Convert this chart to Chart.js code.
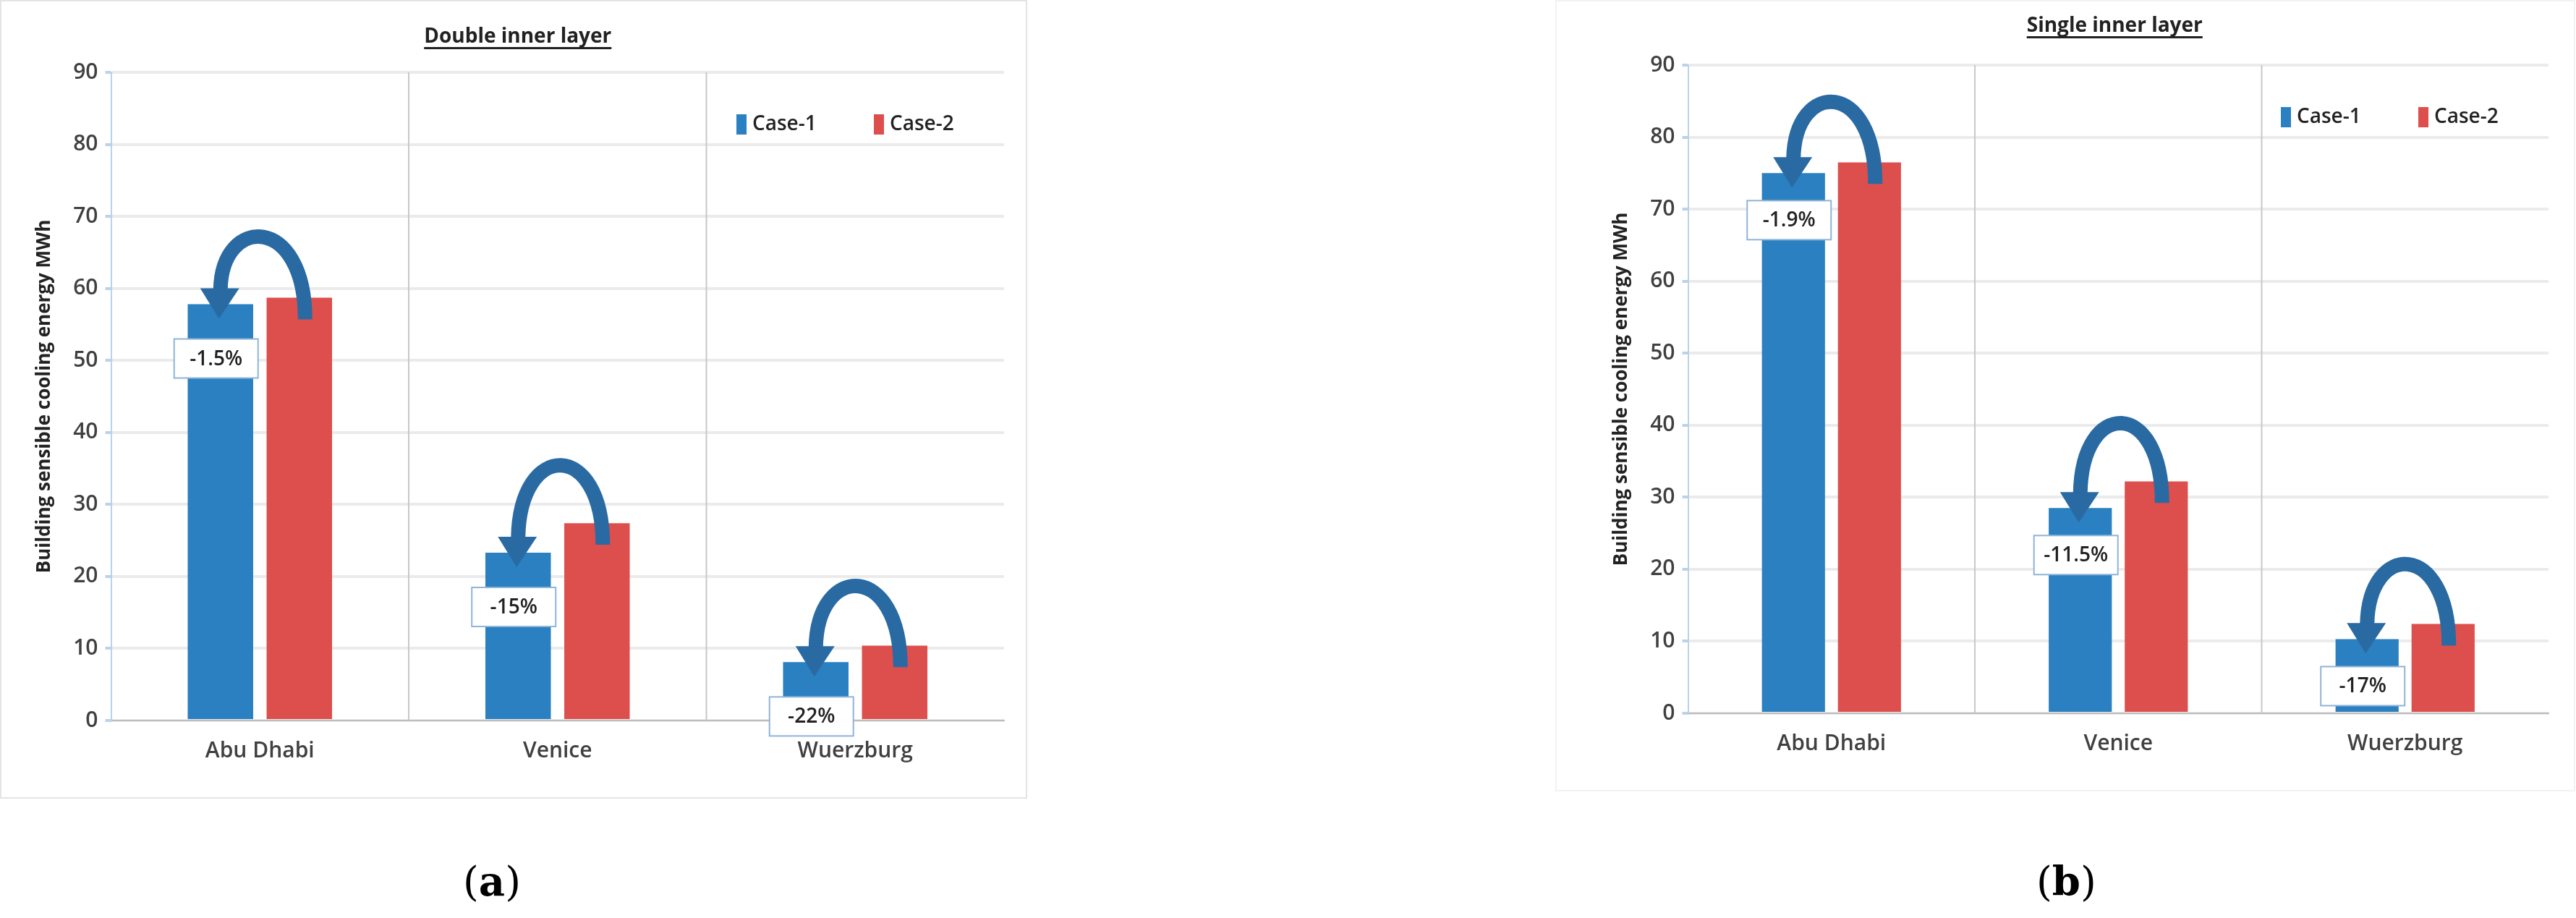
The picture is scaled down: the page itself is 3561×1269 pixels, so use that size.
<!DOCTYPE html>
<html>
<head>
<meta charset="utf-8">
<script src="https://cdn.jsdelivr.net/npm/chart.js@4.4.1/dist/chart.umd.min.js"></script>
<style>
  body { margin: 0; background: #fff; width: 3561px; height: 1269px; position: relative; overflow: hidden; }
  .box { position: absolute; border: 2px solid #e4e4e4; }
  .cap { position: absolute; font-family: "DejaVu Serif", serif; font-size: 56px; color: #000; }
</style>
</head>
<body>
<div class="box" style="left:0; top:0; width:1416px; height:1100px;"><canvas id="chartA"></canvas></div>
<div class="box" style="left:2150px; top:0; width:1406px; height:1090px; border-color:#f2f2f2;"><canvas id="chartB"></canvas></div>
<div class="cap" style="left:640px; top:1185px;">(<b>a</b>)</div>
<div class="cap" style="left:2815px; top:1185px;">(<b>b</b>)</div>
<script>
(function () {
    "use strict";

    const cities = ["Abu Dhabi", "Venice", "Wuerzburg"];
    const seriesNames = ["Case-1", "Case-2"];
    const doubleCase1 = [57.8, 23.3, 8.1];
    const doubleCase2 = [58.7, 27.4, 10.4];
    const doubleChange = ["-1.5%", "-15%", "-22%"];
    const singleCase1 = [75.0, 28.5, 10.3];
    const singleCase2 = [76.5, 32.2, 12.4];
    const singleChange = ["-1.9%", "-11.5%", "-17%"];
    const yTicks = [0, 10, 20, 30, 40, 50, 60, 70, 80, 90];

    const palette = { blue: "#2a80c0", red: "#dd4f4d", arrow: "#2a6aa3", text: "#404040", grid: "#ebebeb", sep: "#c8c8c8" };
    const font = "Open Sans";

    const overlay = {
        id: "overlay",
        afterDatasetsDraw(chart, args, opts) {
            const ctx = chart.ctx;
            const area = chart.chartArea;
            const y = chart.scales.y;
            const m0 = chart.getDatasetMeta(0), m1 = chart.getDatasetMeta(1);
            ctx.save();
            // category separators
            ctx.strokeStyle = palette.sep; ctx.lineWidth = 2;
            const step = (area.right - area.left) / cities.length;
            for (let i = 1; i < cities.length; i++) {
                const x = area.left + step * i;
                ctx.beginPath(); ctx.moveTo(x, area.top); ctx.lineTo(x, area.bottom); ctx.stroke();
            }
            // arrows and labels
            cities.forEach((c, i) => {
                const b = m0.data[i], r = m1.data[i];
                const v1 = chart.data.datasets[0].data[i], v2 = chart.data.datasets[1].data[i];
                const yStart = y.getPixelForValue(v2 - 3);
                const yEnd = y.getPixelForValue(v1 - 2);
                const peak = y.getPixelForValue(v2) - 115;
                const xr = r.x + 8, xb = b.x + 2;
                ctx.strokeStyle = palette.arrow; ctx.lineWidth = 20; ctx.lineCap = "butt";
                ctx.beginPath();
                ctx.moveTo(xr, yStart);
                ctx.bezierCurveTo(xr, peak, xb, peak, xb - 2, yEnd - 40);
                ctx.stroke();
                ctx.fillStyle = palette.arrow;
                ctx.beginPath();
                ctx.moveTo(xb - 30, yEnd - 42);
                ctx.lineTo(xb + 24, yEnd - 42);
                ctx.lineTo(xb - 4, yEnd);
                ctx.closePath(); ctx.fill();
                // label box
                const ly = y.getPixelForValue(v1) + opts.labelOffset;
                const w = 116, h = 54;
                ctx.fillStyle = "#fff"; ctx.fillRect(b.x - w / 2 - 6, ly - h / 2, w, h);
                ctx.strokeStyle = "#8fb4d8"; ctx.lineWidth = 2;
                ctx.strokeRect(b.x - w / 2 - 6, ly - h / 2, w, h);
                ctx.fillStyle = "#222"; ctx.font = "600 28px '" + font + "'";
                ctx.textAlign = "center"; ctx.textBaseline = "middle";
                ctx.fillText(opts.changes[i], b.x - 6, ly + 1);
            });
            // legend
            const lx = area.right - 370, lyy = area.top + 72;
            ctx.font = "600 28px '" + font + "'"; ctx.textAlign = "left"; ctx.textBaseline = "middle";
            [palette.blue, palette.red].forEach((col, k) => {
                const x0 = lx + k * 190;
                ctx.fillStyle = col; ctx.fillRect(x0, lyy - 14, 14, 28);
                ctx.fillStyle = "#222"; ctx.fillText(seriesNames[k], x0 + 22, lyy);
            });
            // title
            ctx.font = "bold 28px '" + font + "'"; ctx.textAlign = "center"; ctx.textBaseline = "alphabetic";
            ctx.fillStyle = "#222";
            const tx = (area.left + area.right) / 2 - opts.titleShift;
            ctx.fillText(opts.title, tx, opts.titleY);
            const tw = ctx.measureText(opts.title).width;
            ctx.fillRect(tx - tw / 2, opts.titleY + 6, tw, 3);
            ctx.restore();
        }
    };

    function makeChart(id, c1, c2, changes, title, pad, titleY, titleShift, labelOffset) {
        return new Chart(document.getElementById(id), {
            type: "bar",
            data: {
                labels: cities,
                datasets: [
                    { label: seriesNames[0], data: c1, backgroundColor: palette.blue },
                    { label: seriesNames[1], data: c2, backgroundColor: palette.red }
                ]
            },
            options: {
                responsive: true,
                maintainAspectRatio: false,
                animation: false,
                datasets: { bar: { categoryPercentage: 0.53, barPercentage: 0.83 } },
                layout: { padding: pad },
                plugins: {
                    legend: { display: false },
                    tooltip: { enabled: false },
                    overlay: { changes: changes, title: title, titleY: titleY, titleShift: titleShift, labelOffset: labelOffset }
                },
                scales: {
                    x: {
                        grid: { display: false },
                        border: { color: "#bdbdbd", width: 2 },
                        ticks: { color: palette.text, font: { family: font, size: 30, weight: "600" }, padding: 16 }
                    },
                    y: {
                        min: 0, max: 90,
                        afterBuildTicks: (s) => { s.ticks = yTicks.map(v => ({ value: v })); },
                        grid: { color: palette.grid, lineWidth: 4, drawTicks: true, tickLength: 8, tickColor: "#b9d3ec" },
                        border: { color: "#b9d3ec", width: 2 },
                        ticks: { color: palette.text, font: { family: font, size: 30, weight: "600" }, padding: 10 },
                        title: { display: true, text: "Building sensible cooling energy MWh", color: "#222", font: { family: font, size: 26, weight: "bold" }, padding: 14 }
                    }
                }
            },
            plugins: [overlay]
        });
    }

    makeChart("chartA", doubleCase1, doubleCase2, doubleChange, "Double inner layer",
        { left: 30, top: 98, right: 30, bottom: 30 }, 57, 55, 75);
    makeChart("chartB", singleCase1, singleCase2, singleChange, "Single inner layer",
        { left: 60, top: 88, right: 35, bottom: 30 }, 42, 5, 65);
})();
</script>
</body>
</html>
